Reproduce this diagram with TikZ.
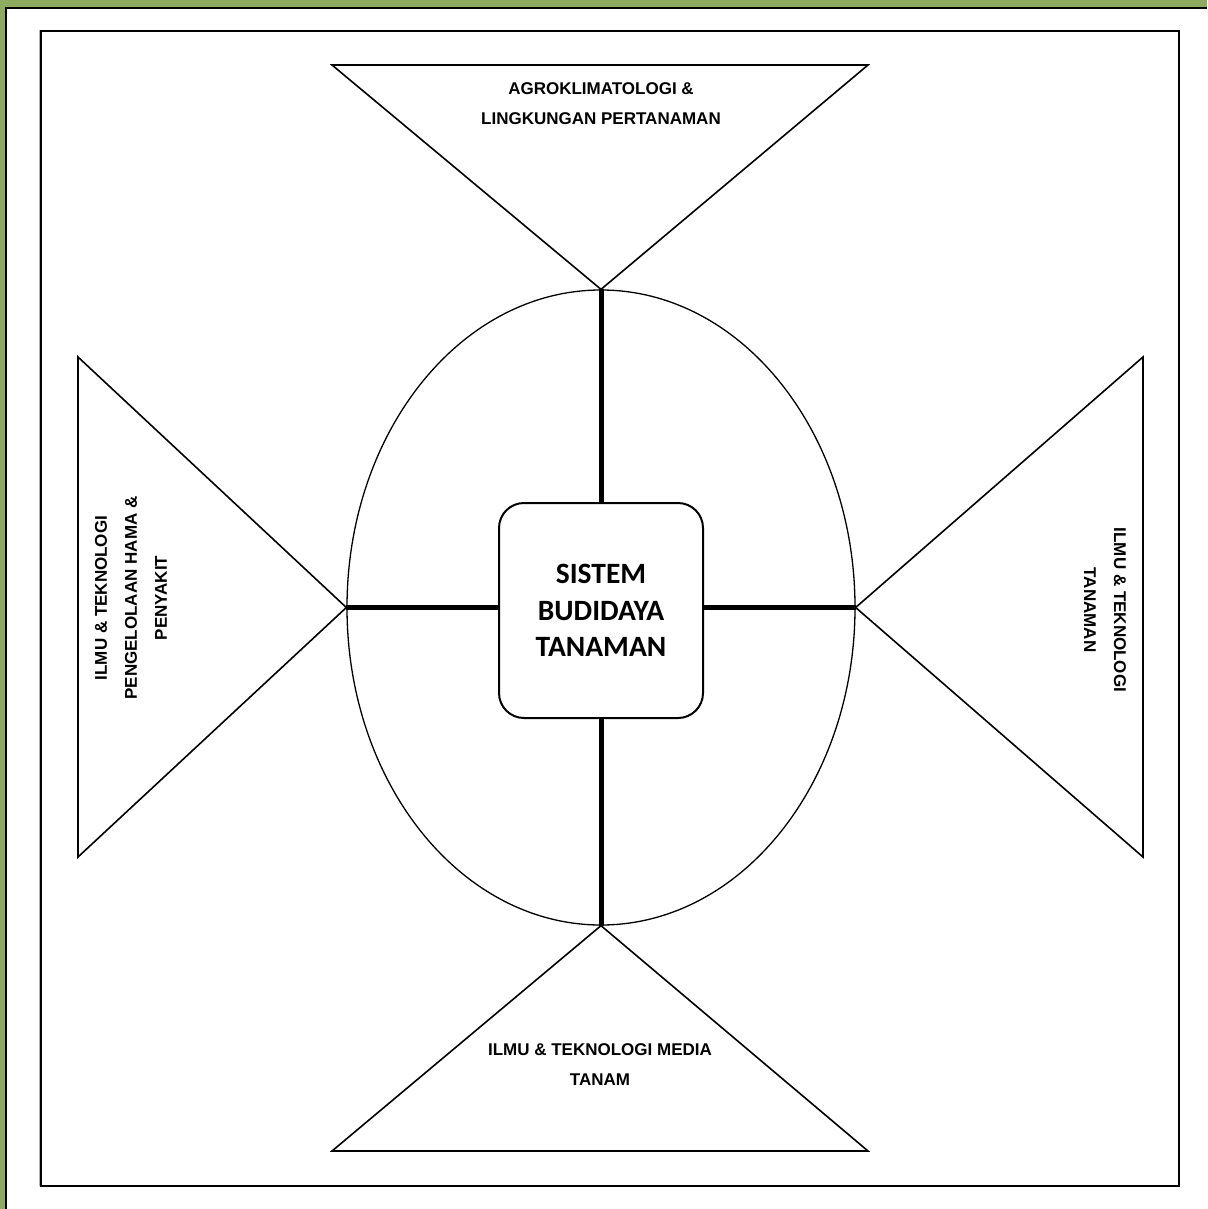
\documentclass[tikz,border=0pt]{standalone}
\usepackage{fontspec}
\setmainfont{Liberation Sans}
\newfontfamily\calib{Carlito}
\usetikzlibrary{shapes.geometric}
\definecolor{framegreen}{RGB}{142,170,94}
\begin{document}
\begin{tikzpicture}[x=1pt,y=-1pt,
  tri/.style={draw=black,line width=1.6pt,line join=miter},
  lab/.style={align=center,font=\fontsize{17}{30}\selectfont\bfseries,inner sep=0pt},
  link/.style={draw=black,line width=5pt}]
\useasboundingbox (0,0) rectangle (1207,1209);
\fill[framegreen] (0,0) rectangle (1207,1209);
\fill[white] (6,8) rectangle (1207,1209);
\draw[line width=2pt] (6,1209) -- (6,8) -- (1207,8);
% inner frame
\draw[gray!60,line width=1pt] (39.5,1186) -- (39.5,30);
\draw[line width=1.5pt] (41,31) rectangle (1179,1186);
% ellipse and centre box
\node[ellipse,draw,line width=1.3pt,minimum width=508,minimum height=635,inner sep=0pt] (ell) at (601,607.5) {};
\node[draw,line width=2pt,rounded corners=25,minimum width=204,minimum height=215,inner sep=0pt,align=center,
  font=\calib\fontsize{29.5}{36.5}\selectfont\bfseries] (box) at (601,610.5) {SISTEM\\BUDIDAYA\\TANAMAN};
% triangles
\coordinate (tA) at (332,65); \coordinate (tB) at (868,65);
\draw[tri] (tA) -- (tB) -- (ell.north) -- cycle;
\coordinate (bA) at (332,1151); \coordinate (bB) at (868,1151);
\draw[tri] (bA) -- (bB) -- (ell.south) -- cycle;
\coordinate (lA) at (78,357); \coordinate (lB) at (78,857);
\draw[tri] (lA) -- (lB) -- (ell.west) -- cycle;
\coordinate (rA) at (1143,357); \coordinate (rB) at (1143,857);
\draw[tri] (rA) -- (rB) -- (ell.east) -- cycle;
% links
\draw[link] (ell.north) -- (box.north);
\draw[link] (box.south) -- (ell.south);
\draw[link] (ell.west) -- (ell.west -| box.west);
\draw[link] (ell.east -| box.east) -- (ell.east);
% labels
\node[lab] (ttop) at (601,104) {AGROKLIMATOLOGI \&\\LINGKUNGAN PERTANAMAN};
\node[lab] (tbot) at (600,1065) {ILMU \& TEKNOLOGI MEDIA\\TANAM};
\node[lab,rotate=90] (tleft) at (131,598) {ILMU \& TEKNOLOGI\\PENGELOLAAN HAMA \&\\PENYAKIT};
\node[lab,rotate=-90] (tright) at (1105,610) {ILMU \& TEKNOLOGI\\TANAMAN};
\end{tikzpicture}
\end{document}
